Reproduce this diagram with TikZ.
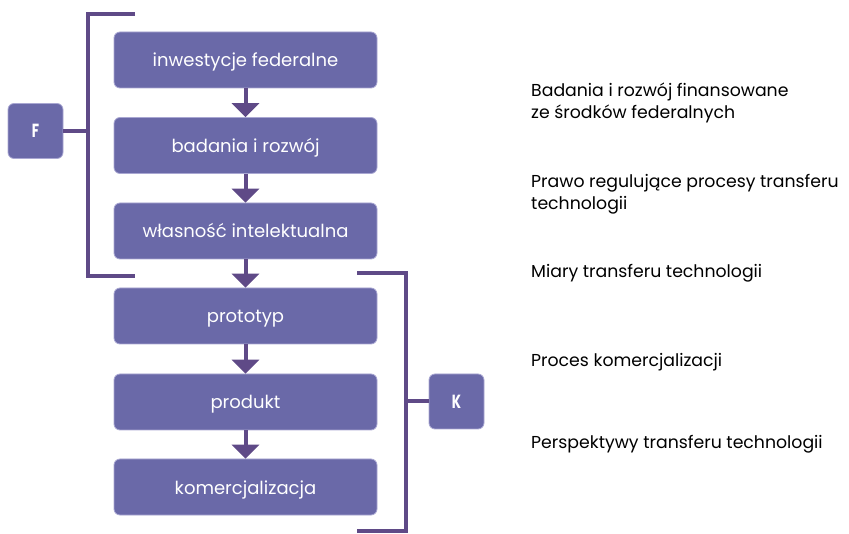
\documentclass[tikz,border=0pt]{standalone}
\usepackage{fontspec}
\setmainfont{Poppins}
\usetikzlibrary{arrows.meta}

\definecolor{boxfill}{HTML}{6A69A8}
\definecolor{boxedge}{HTML}{A9A7D2}
\definecolor{linkcol}{HTML}{5F4A87}

\tikzset{
  stage/.style={draw=boxedge, line width=0.8pt, fill=boxfill, rounded corners=6pt,
    minimum width=263pt, minimum height=56pt, inner sep=0pt,
    text height=14pt, text depth=0pt,
    text=white, font=\fontsize{18}{20}\selectfont},
  tag/.style={draw=boxedge, line width=0.8pt, fill=boxfill, rounded corners=6pt,
    minimum width=55pt, minimum height=55pt, inner sep=0pt,
    text=white, font=\fontsize{19}{20}\selectfont\bfseries},
  flow/.style={draw=linkcol, line width=4pt,
    -{Triangle[width=27pt,length=14pt]}},
  bracket/.style={draw=linkcol, line width=4pt},
  note/.style={anchor=base west, align=left, inner sep=0pt,
    font=\fontsize{17.3}{22}\selectfont}
}

\begin{document}
\begin{tikzpicture}[x=1pt, y=-1pt]
  \useasboundingbox (0,0) rectangle (849,534);

  % process chain
  \node[stage] (inw) at (245.5,60)  {inwestycje federalne};
  \node[stage] (bad) at (245.5,145.5) {badania i rozwój};
  \node[stage] (wla) at (245.5,231) {własność intelektualna};
  \node[stage] (pro) at (245.5,316) {prototyp};
  \node[stage] (prd) at (245.5,402) {produkt};
  \node[stage] (kom) at (245.5,487) {komercjalizacja};

  \draw[flow] (inw) -- (bad);
  \draw[flow] (bad) -- (wla);
  \draw[flow] (wla) -- (pro);
  \draw[flow] (pro) -- (prd);
  \draw[flow] (prd) -- (kom);

  % F group bracket
  \coordinate (fa) at (135,14);
  \coordinate (fb) at (88,14);
  \coordinate (fc) at (88,276);
  \coordinate (fd) at (135,276);
  \draw[bracket] (fa) -- (fb) -- (fc) -- (fd);
  \node[tag] (F) at (35.5,131) {\scalebox{0.7}[1]{F}};
  \draw[bracket] (F.east) -- (F.east -| fb);

  % K group bracket
  \coordinate (ka) at (357,273);
  \coordinate (kb) at (406,273);
  \coordinate (kc) at (406,531);
  \coordinate (kd) at (357,531);
  \draw[bracket] (ka) -- (kb) -- (kc) -- (kd);
  \node[tag] (K) at (456.5,401.5) {\scalebox{0.7}[1]{K}};
  \draw[bracket] (K.west) -- (K.west -| kb);

  % chapter notes (anchored at the baseline of the last line)
  \node[note] (n1) at (531,119) {Badania i rozwój finansowane\\ze środków federalnych};
  \node[note] (n2) at (531,210) {Prawo regulujące procesy transferu\\technologii};
  \node[note] (n3) at (531,278) {Miary transferu technologii};
  \node[note] (n4) at (531,367) {Proces komercjalizacji};
  \node[note] (n5) at (531,449) {Perspektywy transferu technologii};
\end{tikzpicture}
\end{document}
